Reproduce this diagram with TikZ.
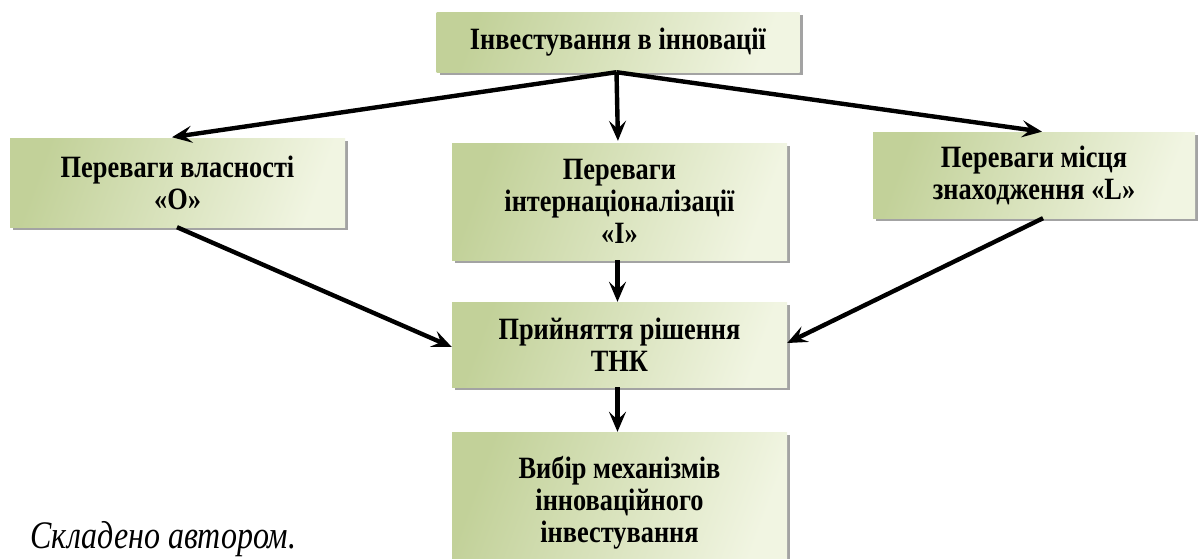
\documentclass[tikz,border=0pt]{standalone}
\usepackage{fontspec}
\setmainfont{Liberation Serif}
\newfontfamily\boxfont[FakeStretch=0.85]{Liberation Serif}
\newfontfamily\capfont[FakeStretch=0.82]{Liberation Serif}
\usetikzlibrary{arrows.meta,shadows,calc}
\definecolor{boxdark}{HTML}{C2D199}
\definecolor{boxlight}{HTML}{F1F5E2}
\tikzset{
  gbox/.style={rectangle, inner sep=2pt, align=center,
    font=\boxfont\bfseries\fontsize{31}{32}\selectfont,
    left color=boxdark, right color=boxlight, shading angle=70,
    drop shadow={shadow xshift=3pt, shadow yshift=-3pt, fill=black!45, opacity=0.8}},
  arr/.style={line width=4.4pt, -{Stealth[length=20pt,width=17pt,inset=8pt]}},
}
\begin{document}
\begin{tikzpicture}[x=1pt,y=-1pt]
\useasboundingbox (0,0) rectangle (1202,558);
\clip (0,0) rectangle (1202,558);
\fill[white] (0,0) rectangle (1202,558);
\node[gbox, minimum width=363pt, minimum height=60pt] (top) at (618,42) {Інвестування в інновації};
\node[gbox, minimum width=335pt, minimum height=89pt] (left) at (177.5,182.5) {Переваги власності\\«O»};
\node[gbox, minimum width=335pt, minimum height=117pt] (mid) at (619.5,201.5) {Переваги\\інтернаціоналізації\\«I»};
\node[gbox, minimum width=322pt, minimum height=86pt] (right) at (1034,175) {Переваги місця\\знаходження «L»};
\node[gbox, minimum width=335pt, minimum height=85pt] (dec) at (619.5,344.5) {Прийняття рішення\\ТНК};
\node[gbox, minimum width=335pt, minimum height=142pt] (bot) at (619.5,503) {Вибір механізмів\\інноваційного\\інвестування};
\node[anchor=base west, inner sep=0pt, font=\capfont\itshape\fontsize{39}{42}\selectfont] (cap) at (30,548) {Складено автором.};
\coordinate (hub) at ([xshift=-1.5pt]top.south);
\draw[arr, shorten >=4pt] (hub) -- ([xshift=-9.5pt]left.north);
\draw[arr, shorten >=2pt] (hub) -- ([xshift=-1.5pt]mid.north);
\draw[arr, shorten >=1pt] (hub) -- ([xshift=9pt]right.north);
\draw[arr] ([xshift=-0.5pt]left.south) -- ([yshift=-2.5pt]dec.west);
\draw[arr] ([xshift=9pt]right.south) -- ([yshift=1.5pt]dec.east);
\draw[arr] ([xshift=-2pt]mid.south) -- ([xshift=-2pt]dec.north);
\draw[arr] ([xshift=-2pt]dec.south) -- ([xshift=-2pt]bot.north);
\end{tikzpicture}
\end{document}
